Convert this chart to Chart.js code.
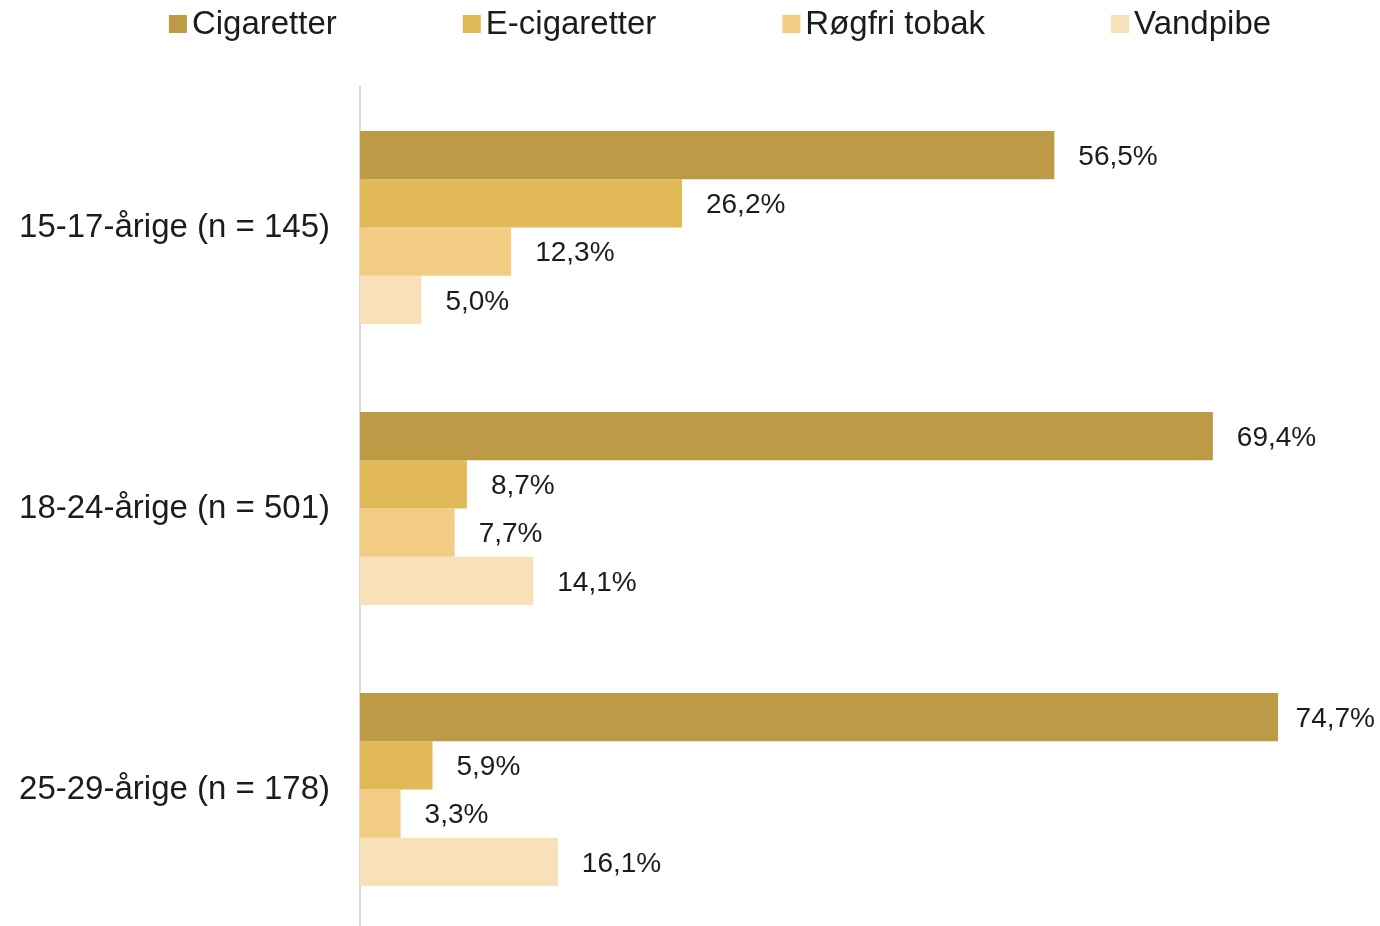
<!DOCTYPE html>
<html lang="da">
<head>
    <meta charset="UTF-8">
    <title>Brug af tobak efter alder</title>
    <script src="https://cdn.jsdelivr.net/npm/chart.js"></script>
    <style>
        html, body { margin: 0; padding: 0; background: #fff; overflow: hidden; }
        canvas { display: block; }
    </style>
</head>
<body>
    <canvas id="tobakChart" width="1380" height="930"></canvas>

    <script>
        // Data
        const categories = ["15-17-årige (n = 145)", "18-24-årige (n = 501)", "25-29-årige (n = 178)"];
        const seriesNames = ["Cigaretter", "E-cigaretter", "Røgfri tobak", "Vandpibe"];
        const cigaretter = [56.5, 69.4, 74.7];
        const eCigaretter = [26.2, 8.7, 5.9];
        const roegfriTobak = [12.3, 7.7, 3.3];
        const vandpibe = [5.0, 14.1, 16.1];
        const colors = ["#bd9a46", "#e1b957", "#f2cc82", "#f8e1b9"];

        const fontFamily = "'Liberation Sans', Arial, sans-serif";
        const textColor = "#1c1c1c";

        // Tal med komma som decimaltegn
        function fmt(v) {
            return v.toFixed(1).replace(".", ",") + "%";
        }

        // Tegner værdien til højre for hver søjle (holdes inden for kanten)
        const valueLabels = {
            id: "valueLabels",
            afterDatasetsDraw(chart) {
                const ctx = chart.ctx;
                ctx.save();
                ctx.font = "28px " + fontFamily;
                ctx.fillStyle = textColor;
                ctx.textAlign = "left";
                ctx.textBaseline = "middle";
                chart.data.datasets.forEach((ds, i) => {
                    chart.getDatasetMeta(i).data.forEach((bar, j) => {
                        const txt = fmt(ds.data[j]);
                        const w = ctx.measureText(txt).width;
                        const x = Math.min(bar.x + 24, chart.width - w - 5);
                        ctx.fillText(txt, x, bar.y + 2);
                    });
                });
                ctx.restore();
            }
        };

        // Egen forklaring øverst (tæt afstand mellem kasse og tekst)
        const topLegend = {
            id: "topLegend",
            afterDraw(chart) {
                const ctx = chart.ctx;
                const box = 18, gap = 5, itemGap = 126, y = 24, center = 720;
                ctx.save();
                ctx.font = "33px " + fontFamily;
                ctx.textBaseline = "middle";
                ctx.textAlign = "left";
                const items = chart.data.datasets.map(ds => ({
                    text: ds.label,
                    color: ds.backgroundColor,
                    w: box + gap + ctx.measureText(ds.label).width
                }));
                const total = items.reduce((s, it) => s + it.w, 0) + itemGap * (items.length - 1);
                let x = center - total / 2;
                items.forEach(it => {
                    ctx.fillStyle = it.color;
                    ctx.fillRect(x, y - box / 2, box, box);
                    ctx.fillStyle = textColor;
                    ctx.fillText(it.text, x + box + gap, y + 1);
                    x += it.w + itemGap;
                });
                ctx.restore();
            }
        };

        const ctx = document.getElementById("tobakChart").getContext("2d");

        new Chart(ctx, {
            type: "bar",
            data: {
                labels: categories,
                datasets: [
                    { label: seriesNames[0], data: cigaretter, backgroundColor: colors[0] },
                    { label: seriesNames[1], data: eCigaretter, backgroundColor: colors[1] },
                    { label: seriesNames[2], data: roegfriTobak, backgroundColor: colors[2] },
                    { label: seriesNames[3], data: vandpibe, backgroundColor: colors[3] }
                ]
            },
            options: {
                indexAxis: "y",
                responsive: false,
                animation: false,
                layout: { padding: { top: 87, left: 0, right: 0, bottom: 0 } },
                datasets: {
                    bar: { barPercentage: 1.0, categoryPercentage: 0.687, borderWidth: 0 }
                },
                scales: {
                    x: {
                        display: false,
                        min: 0,
                        max: 83
                    },
                    y: {
                        // fast bredde og ingen ekstra luft over/under aksen
                        afterFit(scale) {
                            scale.width = 360;
                            scale.paddingTop = 0;
                            scale.paddingBottom = 0;
                        },
                        grid: { display: false, drawTicks: false },
                        border: { display: true, color: "#d9d9d9", width: 2 },
                        ticks: {
                            padding: 30,
                            color: textColor,
                            font: { family: fontFamily, size: 33 }
                        }
                    }
                },
                plugins: {
                    legend: { display: false },
                    tooltip: { enabled: false }
                }
            },
            plugins: [valueLabels, topLegend]
        });
    </script>
</body>
</html>
